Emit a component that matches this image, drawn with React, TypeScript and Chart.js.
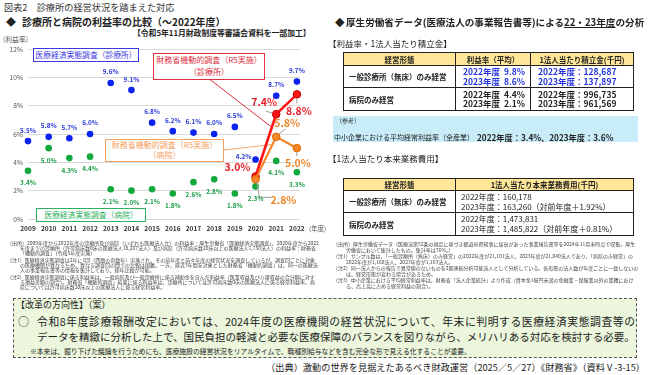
import React, { useEffect, useRef } from "react";
import { Chart, registerables } from "chart.js";

Chart.register(...registerables);

// ---------- data ----------
const years = [2009, 2010, 2011, 2012, 2013, 2014, 2015, 2016, 2017, 2018, 2019, 2020, 2021, 2022];
const clinicSurvey = [5.5, 5.8, 5.7, 6.0, 9.6, 9.1, 6.8, 6.2, 6.1, 6.0, 6.5, 4.2, 8.7, 9.7];
const hospitalSurvey = [3.4, 5.0, 4.3, 4.4, 2.1, 2.0, 2.1, 1.8, 2.6, 2.8, 1.8, 2.3, 4.1, 3.3];
const mofYears = [2020, 2021, 2022];
const mofClinic = [3.0, 7.4, 8.8];
const mofHospital = [2.8, 5.8, 5.0];
const yTicks = [0, 2, 4, 6, 8, 10, 12];

const FONT = '"Noto Sans CJK JP", "Noto Sans", sans-serif';
const BLUE = "#0a22f0";
const GREEN = "#13a83c";
const RED = "#ff1414";
const ORANGE = "#f5862a";

// label styles per dataset index (0 orange, 1 red, 2 blue, 3 green)
type LabelStyle = {
  color: string;
  font: string;
  dy: number;
  offsets?: Record<number, [number, number]>;
  leaders?: Record<number, [number, number][]>;
};
const labelStyles: LabelStyle[] = [
  {
    color: "#f08428",
    font: `bold 10.5px ${FONT}`,
    dy: 0,
    offsets: { 0: [28, 21], 1: [11, -14], 2: [1, 15] },
    leaders: { 0: [[1, 3], [4, 18], [15, 18]], 1: [[3, -3], [9, -8]], 2: [[0, 4], [0, 8]] },
  },
  {
    color: "#e81e28",
    font: `bold 10.5px ${FONT}`,
    dy: 0,
    offsets: { 0: [-18, -9], 1: [-12, -12], 2: [2, 17] },
    leaders: { 1: [[-10, -3], [-4, -1]], 2: [[0, 4], [0, 9]] },
  },
  { color: "#2a3bd8", font: `bold 6.4px ${FONT}`, dy: -11, offsets: { 11: [-12, -3] } },
  { color: "#1d9e48", font: `bold 6.4px ${FONT}`, dy: 12 },
];

const valueLabels = {
  id: "valueLabels",
  beforeDatasetsDraw(chart: any) {
    const ctx = chart.ctx;
    const red = chart.getDatasetMeta(1).data;
    const orange = chart.getDatasetMeta(0).data;
    const along = (pts: any[], t: number) => ({
      x: pts[0].x + (pts[1].x - pts[0].x) * t,
      y: pts[0].y + (pts[1].y - pts[0].y) * t,
    });
    ctx.save();
    ctx.lineWidth = 1;
    const r = along(red, 0.8);
    ctx.strokeStyle = "#e03040";
    ctx.beginPath();
    ctx.moveTo(210, 79.5);
    ctx.lineTo(r.x - 1, r.y);
    ctx.stroke();
    const o = along(orange, 0.82);
    ctx.strokeStyle = "#f5a060";
    ctx.beginPath();
    ctx.moveTo(224, 150);
    ctx.lineTo(o.x, o.y);
    ctx.stroke();
    ctx.restore();
  },
  afterDatasetsDraw(chart: any) {
    const ctx = chart.ctx;
    ctx.save();
    ctx.textAlign = "center";
    ctx.textBaseline = "middle";
    chart.data.datasets.forEach((ds: any, di: number) => {
      const st = labelStyles[di];
      const meta = chart.getDatasetMeta(di);
      meta.data.forEach((pt: any, i: number) => {
        const lead = st.leaders && st.leaders[i];
        if (lead) {
          ctx.strokeStyle = "#9a9a9a";
          ctx.lineWidth = 1;
          ctx.beginPath();
          lead.forEach((p, k) => (k === 0 ? ctx.moveTo(pt.x + p[0], pt.y + p[1]) : ctx.lineTo(pt.x + p[0], pt.y + p[1])));
          ctx.stroke();
        }
        const off = (st.offsets && st.offsets[i]) || [0, st.dy];
        ctx.fillStyle = st.color;
        ctx.font = st.font;
        ctx.fillText(ds.data[i].y.toFixed(1) + "%", pt.x + off[0], pt.y + off[1]);
      });
    });
    ctx.restore();
  },
};

const abs = (left: number, top: number, extra: React.CSSProperties = {}): React.CSSProperties => ({
  position: "absolute",
  left,
  top,
  whiteSpace: "nowrap",
  ...extra,
});

function Box({ left, top, width, height, color, lines, fs }: any) {
  return (
    <div
      style={{
        position: "absolute",
        left,
        top,
        width,
        height,
        boxSizing: "border-box",
        border: `1.5px solid ${color}`,
        background: "#fff",
        color,
        fontSize: fs,
        lineHeight: `${(height - 3) / lines.length}px`,
        textAlign: "center",
        whiteSpace: "nowrap",
      }}
    >
      {lines.map((l: string, i: number) => (
        <div key={i}>{l}</div>
      ))}
    </div>
  );
}

const cellB: React.CSSProperties = { border: "1px solid #222", padding: 0 };

export default function App() {
  const ref = useRef<HTMLCanvasElement>(null);
  useEffect(() => {
    const chart = new Chart(ref.current as HTMLCanvasElement, {
      type: "line",
      data: {
        datasets: [
          {
            label: "財務省機動的調査（R5実施）（病院）",
            data: mofYears.map((x, i) => ({ x, y: mofHospital[i] })),
            borderColor: ORANGE,
            backgroundColor: ORANGE,
            borderWidth: 2.2,
            pointRadius: 3.8,
            pointBorderColor: "#e06a00",
            pointBorderWidth: 1,
            order: 0,
            clip: false,
          },
          {
            label: "財務省機動的調査（R5実施）（診療所）",
            data: mofYears.map((x, i) => ({ x, y: mofClinic[i] })),
            borderColor: RED,
            backgroundColor: RED,
            borderWidth: 2.6,
            pointRadius: 3.8,
            pointBorderColor: "#c00000",
            pointBorderWidth: 1,
            order: 1,
            clip: false,
          },
          {
            label: "医療経済実態調査（診療所）",
            data: years.map((x, i) => ({ x, y: clinicSurvey[i] })),
            showLine: false,
            borderColor: BLUE,
            backgroundColor: BLUE,
            pointRadius: 3.3,
            pointBorderWidth: 0,
            order: 2,
            clip: false,
          },
          {
            label: "医療経済実態調査（病院）",
            data: years.map((x, i) => ({ x, y: hospitalSurvey[i] })),
            showLine: false,
            borderColor: GREEN,
            backgroundColor: GREEN,
            pointRadius: 3.3,
            pointBorderWidth: 0,
            order: 3,
            clip: false,
          },
        ] as any,
      },
      options: {
        responsive: false,
        animation: false,
        devicePixelRatio: 1,
        layout: { padding: { left: 0, right: 30, top: 49, bottom: 0 } },
        plugins: { legend: { display: false }, tooltip: { enabled: false } },
        scales: {
          x: {
            type: "linear",
            min: years[0],
            max: years[years.length - 1] + 0.15,
            afterBuildTicks: (s: any) => {
              s.ticks = years.map((v) => ({ value: v }));
            },
            afterFit: (s: any) => {
              s.height = 21;
            },
            grid: { display: false, drawTicks: false },
            border: { display: false },
            ticks: {
              callback: (v: any) => String(v),
              font: { family: FONT, size: 6.6, weight: "bold" },
              color: "#333",
              padding: 6,
              maxRotation: 0,
              autoSkip: false,
            },
          },
          y: {
            min: 0,
            max: 12,
            afterBuildTicks: (s: any) => {
              s.ticks = yTicks.map((v) => ({ value: v }));
            },
            afterFit: (s: any) => {
              s.width = 28;
            },
            grid: { color: "#d9d9d9", drawTicks: false },
            border: { display: false },
            ticks: {
              callback: (v: any) => v + "%",
              font: { family: FONT, size: 6.6 },
              color: "#555",
              padding: 5,
            },
          },
        },
      } as any,
      plugins: [valueLabels as any],
    });
    return () => chart.destroy();
  }, []);

  const small: React.CSSProperties = {
    position: "absolute",
    transform: "scale(0.5)",
    transformOrigin: "0 0",
    fontSize: 10,
    color: "#444",
    whiteSpace: "normal",
  };
  const note: React.CSSProperties = { paddingLeft: "2.6em", textIndent: "-2.6em" };

  return (
    <div
      style={{
        position: "absolute",
        left: 0,
        top: 0,
        width: 650,
        height: 375,
        overflow: "hidden",
        background: "#fff",
        fontFamily: FONT,
        color: "#222",
      }}
    >
      {/* left header */}
      <div style={abs(4, 1, { fontSize: 9.2, lineHeight: "12px", color: "#333" })}>図表2　診療所の経営状況を踏まえた対応</div>
      <div style={abs(6, 15, { fontSize: 10, lineHeight: "14px", fontWeight: 700 })}>◆</div>
      <div style={abs(22, 15, { fontSize: 10, lineHeight: "14px", fontWeight: 700 })}>診療所と病院の利益率の比較（～2022年度）</div>
      <div style={abs(133, 28, { fontSize: 7.8, lineHeight: "10px", fontWeight: 700 })}>【令和5年11月財政制度等審議会資料を一部加工】</div>
      <div style={abs(3, 35, { fontSize: 6.8, lineHeight: "9px", color: "#555" })}>(利益率)</div>

      {/* chart */}
      <div style={{ position: "absolute", left: 0, top: 0, width: 330, height: 240 }}>
        <canvas ref={ref} width={330} height={240} style={{ width: 330, height: 240, display: "block" }} />
      </div>
      <div style={abs(309, 224, { fontSize: 6.4, lineHeight: "9px", color: "#555" })}>(年度)</div>

      <Box left={33} top={48} width={106} height={14} color="#3a3ae0" fs={7.8} lines={["医療経済実態調査（診療所）"]} />
      <Box left={153} top={53} width={112} height={27} color="#e03040" fs={8} lines={["財務省機動的調査（R5実施）", "（診療所）"]} />
      <Box left={105} top={139} width={119} height={23} color="#f5a060" fs={8} lines={["財務省機動的調査（R5実施）", "（病院）"]} />
      <Box left={36} top={208} width={110} height={14} color="#2fb060" fs={7.8} lines={["医療経済実態調査（病院）"]} />

      {/* left notes */}
      <div style={{ ...small, left: 7, top: 240, width: 624, lineHeight: "10.4px" }}>
        <div style={note}>
          （出所）2009年度から2022年度の診療所及び病院（いずれも医療法人立）の利益率：厚生労働省「医療経済実態調査」、2020年度から2022年度までの診療所（許可病床数0床の医療法人18,207法人）及び病院（許可病床数20床以上の医療法人1,750法人）の利益率：財務省「機動的調査」（令和5年度実施）
        </div>
        <div style={{ ...note, marginTop: 3 }}>
          （注1）医療経済実態調査は2年に1回（西暦の奇数年）実施され、その前年度と前々年度の経営状況を調査しているが、調査回ごとに対象の医療機関が異なるため、異なる調査回の間での比較は困難。一方、直近3年間を対象とした財務省「機動的調査」は、同一の医療法人の事業報告書等の情報を集計しており、経年比較が可能。
        </div>
        <div style={{ ...note, marginTop: 3 }}>
          （注2）医療経済実態調査に係る利益率は、一般病院及び一般診療所に係る補助金を含んだ利益率（医業収益及び介護収益の合計額に対する損益差額の割合）。財務省「機動的調査」結果に係る利益率は、診療所については許可病床数0床の医療法人に係る経常利益率、病院については許可病床数20床以上の医療法人に係る経常利益率。
        </div>
      </div>

      {/* right header */}
      <div style={abs(335, 15, { fontSize: 9.6, lineHeight: "14px", fontWeight: 700 })}>◆</div>
      <div style={abs(346, 15, { fontSize: 9.6, lineHeight: "14px", fontWeight: 700 })}>
        厚生労働省データ(医療法人の事業報告書等)による<span style={{ textDecoration: "underline" }}>22・23年度</span>の分析
      </div>
      <div style={abs(328, 37, { fontSize: 8.5, lineHeight: "12px" })}>【利益率・1法人当たり積立金】</div>

      <table
        style={{
          position: "absolute",
          left: 343,
          top: 52,
          width: 290,
          borderCollapse: "collapse",
          border: "1.5px solid #111",
          tableLayout: "fixed",
          fontFamily: FONT,
        }}
      >
        <colgroup>
          <col style={{ width: 112 }} />
          <col style={{ width: 75 }} />
          <col style={{ width: 103 }} />
        </colgroup>
        <tbody>
          <tr style={{ height: 13, background: "#ffe699", fontSize: 7.5, fontWeight: 700, textAlign: "center", lineHeight: "11px" }}>
            <td style={cellB}>経営形態</td>
            <td style={cellB}>利益率（平均）</td>
            <td style={cellB}>1法人当たり積立金(千円)</td>
          </tr>
          <tr style={{ height: 22 }}>
            <td style={{ ...cellB, fontSize: 7.5, fontWeight: 700, paddingLeft: 5, whiteSpace: "nowrap" }}>一般診療所（無床）のみ経営</td>
            <td style={{ ...cellB, fontSize: 8.5, fontWeight: 700, color: "#2233dd", lineHeight: "9.5px", paddingLeft: 7, whiteSpace: "pre" }}>
              {"2022年度  9.8%\n2023年度  8.6%"}
            </td>
            <td style={{ ...cellB, fontSize: 8.5, fontWeight: 700, color: "#2233dd", lineHeight: "9.5px", paddingLeft: 7, whiteSpace: "pre" }}>
              {"2022年度：128,687\n2023年度：137,897"}
            </td>
          </tr>
          <tr style={{ height: 23 }}>
            <td style={{ ...cellB, fontSize: 7.5, fontWeight: 700, paddingLeft: 5 }}>病院のみ経営</td>
            <td style={{ ...cellB, fontSize: 8.5, fontWeight: 700, lineHeight: "9.5px", paddingLeft: 7, whiteSpace: "pre" }}>
              {"2022年度  4.4%\n2023年度  2.1%"}
            </td>
            <td style={{ ...cellB, fontSize: 8.5, fontWeight: 700, lineHeight: "9.5px", paddingLeft: 7, whiteSpace: "pre" }}>
              {"2022年度：996,735\n2023年度：961,569"}
            </td>
          </tr>
        </tbody>
      </table>

      <div style={{ position: "absolute", left: 333, top: 116, width: 305, height: 26, background: "#c8ecf8" }} />
      <div style={abs(336, 116, { fontSize: 6, lineHeight: "9px", color: "#333" })}>（参考）</div>
      <div style={abs(334, 131, { fontSize: 7, lineHeight: "12px" })}>中小企業における平均経常利益率（全産業）</div>
      <div style={abs(477, 131, { fontSize: 8.2, lineHeight: "12px", fontWeight: 700 })}>2022年度：3.4%、2023年度：3.6%</div>

      <div style={abs(328, 152, { fontSize: 8.5, lineHeight: "12px" })}>【1法人当たり本来業務費用】</div>

      <table
        style={{
          position: "absolute",
          left: 343,
          top: 178,
          width: 290,
          borderCollapse: "collapse",
          border: "1.5px solid #111",
          tableLayout: "fixed",
          fontFamily: FONT,
        }}
      >
        <colgroup>
          <col style={{ width: 112 }} />
          <col style={{ width: 178 }} />
        </colgroup>
        <tbody>
          <tr style={{ height: 12, background: "#ffe699", fontSize: 7.5, fontWeight: 700, textAlign: "center", lineHeight: "10px" }}>
            <td style={cellB}>経営形態</td>
            <td style={cellB}>1法人当たり本来業務費用(千円)</td>
          </tr>
          <tr style={{ height: 22 }}>
            <td style={{ ...cellB, fontSize: 7.5, fontWeight: 700, paddingLeft: 5, whiteSpace: "nowrap" }}>一般診療所（無床）のみ経営</td>
            <td style={{ ...cellB, fontSize: 8, lineHeight: "9.8px", paddingLeft: 5, whiteSpace: "pre" }}>
              {"2022年度：160,178\n2023年度：163,260（対前年度＋1.92%）"}
            </td>
          </tr>
          <tr style={{ height: 23 }}>
            <td style={{ ...cellB, fontSize: 7.5, fontWeight: 700, paddingLeft: 5 }}>病院のみ経営</td>
            <td style={{ ...cellB, fontSize: 8, lineHeight: "9.8px", paddingLeft: 5, whiteSpace: "pre" }}>
              {"2022年度：1,473,831\n2023年度：1,485,822（対前年度＋0.81%）"}
            </td>
          </tr>
        </tbody>
      </table>

      {/* right notes */}
      <div style={{ ...small, left: 333, top: 241, width: 612, lineHeight: "12px" }}>
        <div style={note}>
          （出所）厚生労働省データ（医療法第52条の規定に基づき都道府県知事に届出があった事業報告書等を2024年11月末時点で収集。厚生労働省において集計したもの。集計率は76%。）
        </div>
        <div style={note}>
          （注1）サンプル数は、「一般診療所（無床）のみ経営」の2022年度が21,101法人、2023年度が21,040法人であり、「病院のみ経営」の2022年度が1,168法人、2023年度が1,163法人。
        </div>
        <div style={note}>
          （注2）同一法人からの報告で異常値のないものを2期連続分析可能法人として分析している。各形態の法人数が年度ごとに一致しないのは、経営形態が変わる場合があるため。
        </div>
        <div style={note}>
          （注3）中小企業における平均経常利益率は、財務省「法人企業統計」より作成（資本金1億円未満の金融業・保険業以外の業種における、売上高に占める経常利益の割合）。
        </div>
      </div>

      {/* bottom box */}
      <div
        style={{
          position: "absolute",
          left: 13,
          top: 298,
          width: 624,
          height: 60,
          boxSizing: "border-box",
          border: "1px dashed #555",
          background: "#ebf6dc",
        }}
      />
      <div style={abs(16, 299, { fontSize: 9, lineHeight: "12px" })}>【改革の方向性】（案）</div>
      <div style={abs(18, 313, { fontSize: 11, lineHeight: "16px" })}>○</div>
      <div style={abs(37, 313, { fontSize: 10.8, lineHeight: "16px", width: 598, textAlignLast: "justify", textAlign: "justify" } as any)}>
        令和8年度診療報酬改定においては、2024年度の医療機関の経営状況について、年末に判明する医療経済実態調査等の
      </div>
      <div style={abs(37, 329, { fontSize: 10.5, lineHeight: "16px", width: 592, textAlignLast: "justify", textAlign: "justify" } as any)}>
        データを精緻に分析した上で、国民負担の軽減と必要な医療保障のバランスを図りながら、メリハリある対応を検討する必要。
      </div>
      <div style={abs(30, 346, { fontSize: 6.8, lineHeight: "10px" })}>
        ※本来は、掘り下げた議論を行うためにも、医療施設の経営状況をリアルタイムで、職種別給与などを含む完全な形で見える化することが重要。
      </div>
      <div style={abs(230, 361, { fontSize: 9.2, lineHeight: "13px", width: 415, textAlign: "right" })}>
        （出典）激動の世界を見据えたあるべき財政運営（2025／5／27）《財務省》（資料Ⅴ-3-15）
      </div>
    </div>
  );
}
